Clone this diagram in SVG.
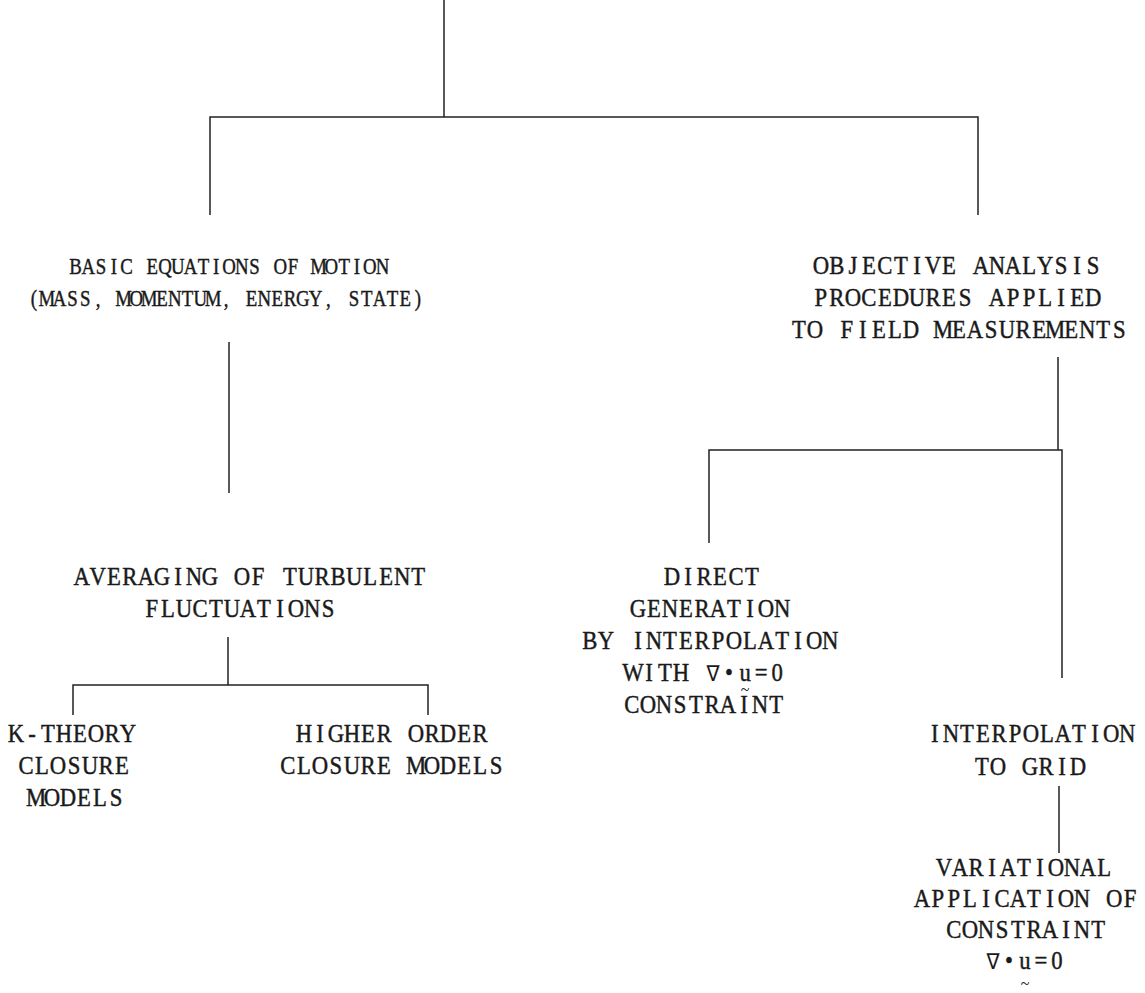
<svg xmlns="http://www.w3.org/2000/svg" width="1145" height="993" viewBox="0 0 1145 993">
<style>
.t text{font-family:"Liberation Serif","DejaVu Serif",serif;font-size:25.5px;fill:#1a1a1a;stroke:#1a1a1a;stroke-width:.45;text-anchor:middle}
.s text{font-size:23.5px}
.n{font-family:"DejaVu Sans","DejaVu Serif",sans-serif;font-size:22px;stroke-width:0}
text.tl{font-size:16px;stroke-width:0}
.c{fill:none;stroke:#222;stroke-width:1.5}
</style>
<rect width="1145" height="993" fill="#fff"/>
<g id="connectors" class="c">
<path d="M444 0V117M210 215V117H978V215"/>
<path d="M229 342V493"/>
<path d="M228 637V685M73 715V685H428V715"/>
<path d="M1058 357V450M709 543V450H1062V678"/>
<path d="M1059 786V853"/>
</g>
<g id="basic" class="t s">
<text transform="translate(229 274) scale(.8 1)" x="-192 -176 -160 -144 -128 -112 -96 -80 -64 -48 -32 -16 0 16 32 48 64 80 96 112 128 144 160 176 192">BASIC EQUATIONS OF MOTION</text>
<text transform="translate(226 306) scale(.8 1)" x="-240 -224 -208 -192 -176 -160 -144 -128 -112 -96 -80 -64 -48 -32 -16 0 16 32 48 64 80 96 112 128 144 160 176 192 208 224 240">(MASS, MOMENTUM, ENERGY, STATE)</text>
</g>
<g id="objective" class="t">
<text transform="translate(957 274) scale(.89 1)" x="-153 -135 -117 -99 -81 -63 -45 -27 -9 9 27 45 63 81 99 117 135 153">OBJECTIVE ANALYSIS</text>
<text transform="translate(957 306) scale(.89 1)" x="-153 -135 -117 -99 -81 -63 -45 -27 -9 9 27 45 63 81 99 117 135 153">PROCEDURES APPLIED</text>
<text transform="translate(959 338) scale(.89 1)" x="-180 -162 -144 -126 -108 -90 -72 -54 -36 -18 0 18 36 54 72 90 108 126 144 162 180">TO FIELD MEASUREMENTS</text>
</g>
<g id="averaging" class="t">
<text transform="translate(250 585) scale(.89 1)" x="-189 -171 -153 -135 -117 -99 -81 -63 -45 -27 -9 9 27 45 63 81 99 117 135 153 171 189">AVERAGING OF TURBULENT</text>
<text transform="translate(240 617) scale(.89 1)" x="-99 -81 -63 -45 -27 -9 9 27 45 63 81 99">FLUCTUATIONS</text>
</g>
<g id="ktheory" class="t">
<text transform="translate(72 742) scale(.89 1)" x="-63 -45 -27 -9 9 27 45 63">K-THEORY</text>
<text transform="translate(74 774) scale(.89 1)" x="-54 -36 -18 0 18 36 54">CLOSURE</text>
<text transform="translate(76 806) scale(.89 1)" x="-45 -27 -9 9 27 45">MODELS</text>
</g>
<g id="higher" class="t">
<text transform="translate(392 742) scale(.89 1)" x="-99 -81 -63 -45 -27 -9 9 27 45 63 81 99">HIGHER ORDER</text>
<text transform="translate(392 774) scale(.89 1)" x="-117 -99 -81 -63 -45 -27 -9 9 27 45 63 81 99 117">CLOSURE MODELS</text>
</g>
<g id="direct" class="t">
<text transform="translate(712 585) scale(.89 1)" x="-45 -27 -9 9 27 45">DIRECT</text>
<text transform="translate(710 617) scale(.89 1)" x="-81 -63 -45 -27 -9 9 27 45 63 81">GENERATION</text>
<text transform="translate(710 649) scale(.89 1)" x="-135 -117 -99 -81 -63 -45 -27 -9 9 27 45 63 81 99 117 135">BY INTERPOLATION</text>
<text transform="translate(705 681) scale(.89 1)" x="-81 -63 -45 -27 -9 9 27 45 63 81">WITH <tspan class="n">∇</tspan>•u=0</text>
<text transform="translate(704 713) scale(.89 1)" x="-81 -63 -45 -27 -9 9 27 45 63 81">CONSTRAINT</text>
<text class="tl" x="745" y="695">~</text>
</g>
<g id="interp" class="t">
<text transform="translate(1031 742) scale(.89 1)" x="-108 -90 -72 -54 -36 -18 0 18 36 54 72 90 108">INTERPOLATION</text>
<text transform="translate(1030 775) scale(.89 1)" x="-54 -36 -18 0 18 36 54">TO GRID</text>
</g>
<g id="variational" class="t">
<text transform="translate(1024 876) scale(.89 1)" x="-90 -72 -54 -36 -18 0 18 36 54 72 90">VARIATIONAL</text>
<text transform="translate(1026 907) scale(.89 1)" x="-117 -99 -81 -63 -45 -27 -9 9 27 45 63 81 99 117">APPLICATION OF</text>
<text transform="translate(1026 938) scale(.89 1)" x="-81 -63 -45 -27 -9 9 27 45 63 81">CONSTRAINT</text>
<text transform="translate(1025 969) scale(.89 1)" x="-36 -18 0 18 36"><tspan class="n">∇</tspan>•u=0</text>
<text class="tl" x="1025" y="989">~</text>
</g>
</svg>
